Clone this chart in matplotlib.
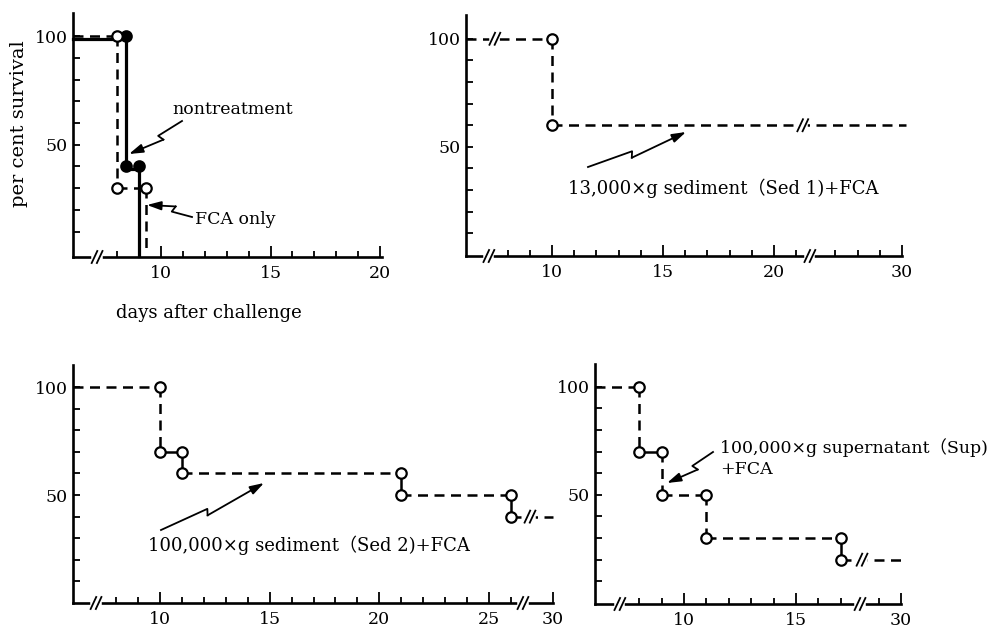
import matplotlib
matplotlib.use('Agg')
import matplotlib.pyplot as plt
from matplotlib.lines import Line2D
from matplotlib.patches import FancyArrowPatch
from matplotlib.transforms import IdentityTransform, ScaledTranslation
import numpy as np

W, H = 993, 628
plt.rcParams['font.family'] = ['DejaVu Serif', 'Noto Sans CJK JP']

# data: days of deaths and survival levels (per cent) before/after each drop
nontreat_days = [8.4, 9.0]
nontreat_surv = [100, 40, 0]
fca_days = [8.0, 9.3]
fca_surv = [100, 30, 0]

sed1_days = [10]
sed1_surv = [100, 60]

sed2_days = [10, 11, 21, 26]
sed2_surv = [100, 70, 60, 50, 40]

sup_days = [8, 9, 11, 17]
sup_surv = [100, 70, 50, 30, 20]

last_day = 30
y_ticks = list(range(10, 101, 10))
y_labels = {50: '50', 100: '100'}

fig = plt.figure(figsize=(W / 100, H / 100), dpi=100)


def rect(left, top, right, bottom):
    return [left / W, 1 - bottom / H, (right - left) / W, (bottom - top) / H]


def make_axes(box, xlim, ylim, minor, major, tail=None, shift=0):
    ax = fig.add_axes(rect(*box))
    ax.set_xlim(*xlim)
    ax.set_ylim(*ylim)
    for s in ['top', 'right']:
        ax.spines[s].set_visible(False)
    for s in ['left', 'bottom']:
        ax.spines[s].set_linewidth(1.9)
    ticks = list(minor) + list(major)
    labels = [''] * len(minor) + [str(m) for m in major]
    if tail:
        ticks += [t - shift for t in tail]
        labels += [str(t) if t == last_day else '' for t in tail]
    mj = [t for t, l in zip(ticks, labels) if l]
    mn = [t for t, l in zip(ticks, labels) if not l]
    ax.set_xticks(mj)
    ax.set_xticklabels([l for l in labels if l])
    ax.set_xticks(mn, minor=True)
    ax.set_yticks(y_ticks)
    ax.set_yticklabels([y_labels.get(v, '') for v in y_ticks])
    ax.tick_params(axis='x', which='major', direction='in', length=8, width=1.3,
                   labelsize=12.5, pad=6)
    ax.tick_params(axis='x', which='minor', direction='in', length=4.5, width=1.3)
    ax.tick_params(axis='y', direction='in', length=5, width=1.3, labelsize=12.5, pad=4)
    return ax


def steps(days, surv, x0, x_end=None):
    xs, ys = [x0], [surv[0]]
    for d, a, b in zip(days, surv[:-1], surv[1:]):
        xs += [d, d]
        ys += [a, b]
    if x_end is not None:
        xs.append(x_end)
        ys.append(surv[-1])
    return xs, ys


def circles(ax, days, surv, filled=False):
    px, py = [], []
    for d, a, b in zip(days, surv[:-1], surv[1:]):
        px += [d] if b == 0 else [d, d]
        py += [a] if b == 0 else [a, b]
    ax.plot(px, py, 'o', ms=7.5, mec='black', mew=1.6,
            mfc='black' if filled else 'white', zorder=6, clip_on=False)


def dashed(ax, xs, ys):
    # short steps between two circles are drawn solid, longer ones dashed
    fig.canvas.draw()
    pts = ax.transData.transform(np.column_stack([xs, ys]))
    for i in range(len(xs) - 1):
        short = np.hypot(*(pts[i + 1] - pts[i])) < 26
        ax.plot(xs[i:i + 2], ys[i:i + 2], color='black', lw=1.8,
                ls='-' if short else (0, (4, 2.6)),
                solid_capstyle='butt', zorder=4, clip_on=False)


def brk(ax, x, y, h=6, gap=2.6, slant=2.8):
    fig.canvas.draw()
    X, Y = ax.transData.transform((x, y))
    idt = IdentityTransform()
    ax.add_line(Line2D([X - gap, X + gap], [Y, Y], color='white', lw=4,
                       transform=idt, clip_on=False, zorder=7))
    for dx in (-gap, gap):
        ax.add_line(Line2D([X + dx - slant, X + dx + slant], [Y - h, Y + h],
                           color='black', lw=1.3, transform=idt, clip_on=False, zorder=8))


def bolt(start, tip, frac=0.45, kink=6, sign=1):
    S = np.array(start, float)
    T = np.array(tip, float)
    d = T - S
    u = d / np.hypot(*d)
    perp = sign * np.array([-u[1], u[0]])
    A = S + frac * d
    B = A + perp * kink - u * 2.5
    pts = np.array([S, A, B])
    fig.add_artist(Line2D(pts[:, 0] / W, 1 - pts[:, 1] / H, color='black', lw=1.3,
                          transform=fig.transFigure))
    fig.add_artist(FancyArrowPatch(
        (B[0] / W, 1 - B[1] / H), (T[0] / W, 1 - T[1] / H), transform=fig.transFigure,
        arrowstyle='-|>,head_length=0.7,head_width=0.22', mutation_scale=12,
        lw=1.3, color='black', shrinkA=0, shrinkB=0))


def label(x, y, s, size=13, **kw):
    fig.text(x / W, 1 - y / H, s, fontsize=size, va='center', ha=kw.pop('ha', 'left'), **kw)


# ---- panel 1: nontreatment / FCA only
ax1 = make_axes((73, 13, 382, 257), (5.98, 20.09), (-1.65, 110.6),
                minor=[8, 9, 11, 12, 13, 14, 16, 17, 18, 19], major=[10, 15, 20])
x0 = ax1.get_xlim()[0]
xs, ys = steps(nontreat_days, nontreat_surv, x0)
low = ax1.transData + ScaledTranslation(0, -2.5 / 100, fig.dpi_scale_trans)
ax1.plot(xs, ys, color='black', lw=2.3, zorder=4, clip_on=False, transform=low)
circles(ax1, nontreat_days, nontreat_surv, filled=True)
xs, ys = steps(fca_days, fca_surv, x0)
dashed(ax1, xs, ys)
circles(ax1, fca_days, fca_surv)
brk(ax1, 7.08, ax1.get_ylim()[0])
label(19, 124, 'per cent survival', size=14, rotation=90, ha='center')
label(209, 313, 'days after challenge', ha='center')

# ---- panel 2: Sed 1
shift2 = 4.23
ax2 = make_axes((466, 15, 902, 256), (6.13, 25.77), (-0.5, 111),
                minor=[8, 9, 11, 12, 13, 14, 16, 17, 18, 19, 21], major=[10, 15, 20],
                tail=[27, 28, 29, 30], shift=shift2)
xs, ys = steps(sed1_days, sed1_surv, ax2.get_xlim()[0], last_day - shift2 + 0.2)
dashed(ax2, xs, ys)
circles(ax2, sed1_days, sed1_surv)
brk(ax2, 7.16, ax2.get_ylim()[0])
brk(ax2, 21.62, ax2.get_ylim()[0])
brk(ax2, 7.43, sed1_surv[0])
brk(ax2, 21.3, sed1_surv[-1])

# ---- panel 3: Sed 2
shift3 = 2.08
ax3 = make_axes((73, 365, 553, 603), (6.03, 27.92), (0, 110.2),
                minor=[8, 9, 11, 12, 13, 14, 16, 17, 18, 19, 21, 22, 23, 24, 26],
                major=[10, 15, 20, 25], tail=[30], shift=shift3)
xs, ys = steps(sed2_days, sed2_surv, ax3.get_xlim()[0], last_day - shift3)
dashed(ax3, xs, ys)
circles(ax3, sed2_days, sed2_surv)
brk(ax3, 7.08, 0)
brk(ax3, 26.55, 0)
brk(ax3, 26.87, sed2_surv[-1])

# ---- panel 4: Sup
shift4 = 10.31
ax4 = make_axes((595, 364, 901, 604), (6.03, 19.69), (-0.5, 110.5),
                minor=[8, 9, 11, 12, 13, 14, 16, 17], major=[10, 15],
                tail=[29, 30], shift=shift4)
xs, ys = steps(sup_days, sup_surv, ax4.get_xlim()[0], last_day - shift4 + 0.27)
dashed(ax4, xs, ys)
circles(ax4, sup_days, sup_surv)
brk(ax4, 7.14, ax4.get_ylim()[0])
brk(ax4, 17.86, ax4.get_ylim()[0])
brk(ax4, 17.95, sup_surv[-1])

# ---- annotations
label(172, 110, 'nontreatment', size=12.5)
bolt((182, 121), (129, 154), sign=-1)
label(195, 220, 'FCA only', size=12.5)
bolt((192, 217), (147, 205), sign=1)
label(568, 188, '13,000×g sediment（Sed 1)+FCA')
bolt((588, 167), (686, 132), sign=1)
label(148, 545, '100,000×g sediment（Sed 2)+FCA')
bolt((161, 530), (264, 483), sign=1)
label(720, 448, '100,000×g supernatant（Sup)', size=12.5)
label(720, 470, '+FCA', size=12.5)
bolt((713, 452), (667, 483), sign=-1)

fig.savefig('out.png', dpi=100)
plt.close()
